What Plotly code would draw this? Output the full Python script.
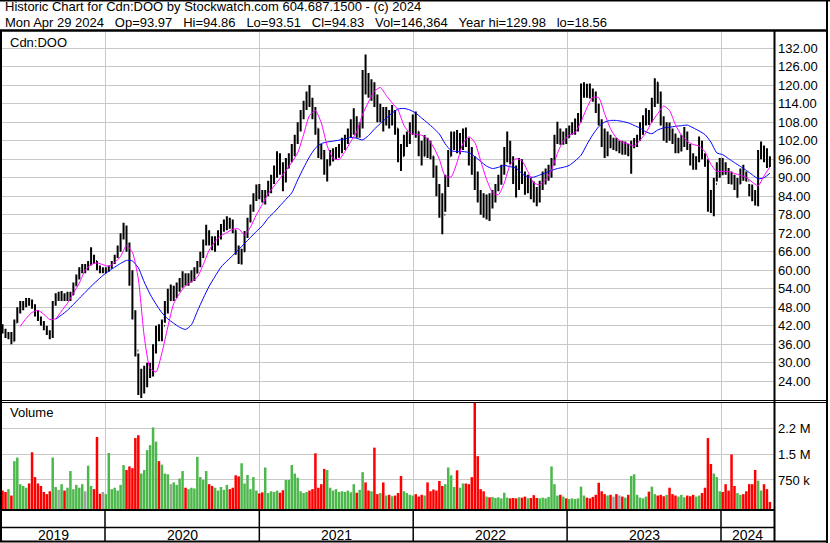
import pandas as pd
import plotly.graph_objects as go

W, H = 830, 543
FONT = "Liberation Sans, Arial, sans-serif"


def px(x):
    return x / W


def py(y):
    return 1 - y / H


# ---------------- data (weekly bars) ----------------
WEEKS = pd.date_range("2019-05-03", periods=261, freq="7D")
MA_DATES = WEEKS[::2]

HIGH = [
    42.5, 41, 40, 40, 44, 48, 50, 50, 51, 51,
    50.5, 49, 47, 45, 43.5, 42, 40.5, 50, 52.5, 53,
    53.3, 52.5, 53, 53, 56, 58.6, 61, 62, 62, 63,
    67.5, 65, 63, 61.5, 61, 61, 61.5, 63, 65, 68,
    72, 75.4, 74.5, 69, 60, 47, 33, 28, 29, 30,
    30, 36, 42, 42.5, 44, 50, 54, 55.4, 55, 56,
    57.5, 59.7, 59, 59, 60, 61, 63, 66, 70, 74.8,
    73, 71, 71, 73, 75, 76.5, 77.5, 77, 76.5, 73,
    68, 67, 72.7, 77, 81.3, 85, 87.8, 88, 86, 86,
    89, 91, 94, 98.6, 98, 95, 96.4, 98, 101, 104,
    108, 112, 115, 118, 120.1, 116, 113, 106, 101, 99,
    96, 99, 99.6, 100, 101, 103, 104, 106, 109, 112.6,
    110, 108, 125, 129.98, 124, 122, 121, 117, 114, 113,
    113, 112, 113.6, 112, 106, 101, 104, 105, 108, 110.5,
    111.5, 105, 102, 103.9, 103, 102, 97, 94, 88, 85,
    91, 99, 105, 105, 105.5, 104.5, 106, 106.3, 103, 100,
    97, 92, 86, 85, 84.6, 85, 86, 88, 91, 94.2,
    100, 105, 102, 97, 94, 96.4, 96, 92, 91, 90,
    88.8, 87, 89, 92, 93, 94.2, 96.4, 104, 108.2, 106,
    105, 106.1, 107, 108, 109.2, 111, 120.6, 121, 120.5, 120.6,
    119, 118, 114, 109, 106, 105, 104, 103, 102.9, 102,
    102, 101.8, 101, 102, 102.9, 104, 108, 110.3, 112.6, 112,
    116, 122.3, 121, 118, 110, 108, 107.9, 106, 104.4, 103,
    104, 106.5, 105, 101, 98, 97, 103.4, 102, 98, 96,
    86, 90, 95, 96.4, 96.4, 95, 93.2, 92, 91, 89.9,
    93, 94.2, 92, 88, 87.8, 86, 99, 101.8, 100.5, 99.6,
    97,
]

LOW = [
    39.5, 38, 37.6, 36, 37, 43, 46, 47, 48, 48.5,
    47.5, 45, 43.5, 42, 40.5, 39, 37.6, 38, 48.5, 50,
    50, 50, 50, 50, 52, 55, 57, 59, 59, 60,
    61.5, 62, 60, 59, 59, 59, 59.5, 60.5, 62, 64,
    66, 70, 66, 55, 44, 32, 19.5, 18.56, 20, 22,
    25, 25.5, 33, 37, 37, 43, 46, 50, 50, 51,
    53, 54.3, 55, 55, 56, 56.5, 59, 61, 64, 68,
    68, 66.5, 66, 68, 70, 72.5, 73, 73.5, 72, 65,
    62, 61.9, 66, 70.5, 75.5, 79, 82.5, 83, 82, 81.3,
    84, 85, 88, 90, 91, 85.6, 88.5, 93, 95, 97,
    101, 105, 109, 112, 113, 109, 104, 96.4, 96, 91,
    88.8, 94, 95.3, 96, 96.5, 98, 99, 101, 103, 104,
    103, 103, 106, 117, 116, 115, 113, 108, 108, 105,
    107, 106, 107, 104, 95, 92.2, 97, 100, 101, 104,
    103, 97, 94, 97, 96.4, 96, 90, 84, 77, 71.7,
    79, 87, 97, 99, 98, 97.6, 99, 100, 94, 91,
    86, 82, 78, 77, 76.5, 76, 80, 82, 85.6, 87.7,
    91, 95, 94.4, 88, 83.6, 86, 88, 84.5, 85, 83,
    82, 80.8, 82, 86, 87.8, 89, 90, 94, 101, 100.7,
    100.7, 101, 103, 104, 104, 105, 108, 116, 116, 115.7,
    114.7, 111, 107, 100, 96.4, 97, 99.6, 99, 98.6, 98,
    97.5, 97.5, 97, 91.3, 99.6, 100, 102, 104, 107, 107.1,
    108, 113, 114, 107, 102, 101.4, 102, 101, 98, 98,
    98.5, 100, 99, 94, 92.6, 92.6, 95, 96, 93.6, 79,
    78.6, 77.5, 88.8, 90, 90.8, 91, 88, 87.8, 86, 83.5,
    88, 89, 88.8, 84, 82.4, 81, 80.8, 96, 95, 93.2,
    93.51,
]

CLOSE = [
    40.5, 38.5, 39, 37, 43, 47, 48, 49.5, 50, 49.5,
    48, 46, 44.5, 42.5, 41, 39.5, 38.5, 49, 51, 51,
    52, 51, 51.5, 52, 55, 58, 60, 61, 61, 62,
    64, 63, 61, 60, 60, 60.5, 61, 62.5, 64.5, 67,
    71, 73.5, 68, 57, 46, 34, 22, 24, 25, 27,
    27.5, 34, 40, 39, 42, 47, 52, 52, 53, 54.5,
    56, 57, 56.5, 57.5, 58, 59, 62, 65, 69, 72,
    69, 68, 70, 72, 73, 75, 76, 75, 73, 67,
    64, 66, 71, 76, 80, 84, 86, 85, 83.5, 85,
    87, 89, 93, 96, 93, 90, 94, 96, 99, 102,
    106, 110, 113, 116, 115, 111, 106, 98, 97, 93,
    94, 97, 98, 98.5, 100, 101, 102.5, 105, 107, 108,
    105, 106.5, 122, 120, 118, 120, 116, 110, 112, 109,
    111, 110, 111, 106, 98, 97, 102, 103, 106, 107,
    105, 99, 97, 101, 99, 97, 92, 86, 80, 78,
    88, 97, 101, 102, 101, 102, 104, 102, 97, 94,
    90, 84, 81, 80, 82, 81, 84, 86, 89, 92,
    98, 99, 96, 91, 88, 93, 91, 86, 88, 86,
    84, 83, 87, 90, 91, 93, 95, 102, 105, 102,
    104, 103, 106, 107, 108, 110, 118, 119, 118, 117,
    116, 112, 108, 102, 100, 103, 101, 101, 100, 100,
    99, 100, 99, 100, 101, 103, 107, 109, 111, 110,
    114, 121, 116, 109, 105, 106, 104, 103, 100, 101,
    102, 104, 100, 96, 95, 96, 100, 97, 95, 82,
    81, 88, 93, 94, 93, 92, 90, 89, 87, 88,
    92, 91, 89, 86, 85, 83, 97, 99, 97, 95,
    94.83,
]
FIRST_OPEN = 41.5

VOLUME_K = [
    520, 480, 560, 380, 1350, 1450, 700, 650, 600, 720,
    1600, 900, 720, 650, 480, 420, 500, 1450, 620, 540,
    700, 520, 600, 1070, 560, 680, 600, 700, 500, 1220,
    650, 560, 2030, 430, 480, 420, 1580, 560, 600, 520,
    680, 1240, 1100, 1200, 1150, 2000, 2080, 1000, 1100, 1660,
    1800, 2300, 1900, 1350, 1250, 1000, 980, 700, 750, 680,
    860, 1070, 600, 560, 600, 580, 1470, 900, 820, 1070,
    700, 650, 600, 520, 620, 540, 680, 560, 600, 950,
    920, 1290, 720, 960, 560, 900, 520, 440, 470, 1170,
    450, 500, 480, 520, 460, 530, 820, 820, 1240, 1000,
    880, 500, 450, 480, 520, 560, 1570, 600, 700, 1130,
    1100, 600, 520, 560, 480, 500, 480, 520, 470, 700,
    460, 540, 1040, 750, 520, 500, 1730, 420, 450, 750,
    380, 400, 360, 380, 450, 930, 500, 450, 400, 380,
    420, 350, 400, 380, 750, 500, 550, 520, 790, 650,
    700, 1170, 950, 620, 1090, 600, 720, 720, 700, 900,
    3000, 1490, 560, 500, 350, 330, 340, 310, 330, 300,
    460, 320, 300, 310, 300, 330, 320, 350, 300, 310,
    390, 310, 300, 320, 300, 340, 1200, 700, 380, 400,
    350, 300, 280, 300, 280, 300, 630, 380, 320, 300,
    340, 400, 740, 500, 420, 380, 400, 350, 420, 380,
    350, 320, 400, 930, 980, 400, 320, 300, 350, 490,
    630, 420, 380, 400, 360, 400, 600, 420, 380, 350,
    400, 330, 380, 360, 400, 350, 380, 450, 600, 2000,
    1270, 1000, 900, 500, 480, 700, 520, 1540, 650, 450,
    400, 420, 500, 700, 700, 1100, 800, 520, 700, 560,
    200,
]

# moving averages, every second week
MA_FAST = [
    None, None, None, 41.8, 44.4, 46.3, 47.0, 45.7, 44.0, 44.3,
    46.8, 49.3, 52.5, 55.8, 60.0, 61.8, 62.4, 61.8, 61.3, 62.5,
    64.5, 68.0, 65.8, 57.2, 38.6, 28.2, 27.0, 33.2, 41.6, 49.2,
    52.5, 55.0, 56.3, 57.8, 61.8, 66.5, 69.3, 71.2, 72.2, 73.3,
    73.4, 71.5, 74.0, 78.0, 81.3, 84.8, 87.3, 89.8, 92.3, 95.0,
    98.1, 104.0, 110.2, 111.8, 107.8, 100.4, 96.3, 95.9, 98.5, 101.8,
    104.9, 110.6, 114.6, 118.1, 119.3, 116.7, 114.3, 112.0, 107.0, 104.5,
    104.1, 103.8, 102.7, 100.0, 96.0, 90.5, 90.3, 95.0, 101.1, 103.3,
    101.5, 95.5, 89.5, 85.3, 84.5, 88.3, 94.2, 96.2, 95.5, 92.0,
    88.3, 87.8, 89.3, 92.5, 97.9, 102.0, 103.8, 104.7, 108.2, 112.7,
    116.1, 116.0, 110.8, 105.9, 102.9, 101.6, 101.0, 100.3, 102.2, 104.6,
    108.1, 110.8, 113.3, 111.8, 107.2, 103.8, 101.8, 100.8, 100.3, 98.4,
    94.4, 92.1, 92.1, 92.0, 91.4, 90.8, 90.1, 88.6, 87.4, 90.6,
    93.5,
]

MA_SLOW = [
    None, None, None, None, None, None, None, None, None, 44.1,
    45.5, 47.0, 48.9, 50.9, 52.8, 54.8, 56.6, 58.3, 59.7, 61.0,
    62.2, 63.2, 63.0, 60.8, 56.2, 52.2, 49.0, 46.2, 44.2, 42.8,
    41.5, 40.8, 42.3, 46.7, 50.9, 54.8, 58.0, 61.0, 63.0, 64.8,
    66.7, 68.7, 70.6, 72.6, 74.4, 76.9, 78.8, 80.9, 83.0, 85.1,
    89.3, 93.2, 96.8, 99.6, 101.1, 101.6, 101.9, 102.2, 102.6, 103.1,
    102.8, 102.3, 103.7, 105.8, 107.6, 109.3, 111.0, 112.3, 112.5, 112.0,
    111.0, 109.4, 107.8, 106.1, 104.2, 101.0, 98.8, 98.5, 98.5, 98.2,
    96.9, 95.3, 93.8, 93.0, 93.4, 94.0, 93.6, 93.2, 91.3, 90.3,
    90.2, 90.9, 91.6, 92.4, 93.0, 93.4, 94.0, 95.5, 97.3, 100.8,
    104.0, 106.6, 108.1, 108.6, 108.6, 108.3, 107.8, 107.0, 106.1, 104.9,
    104.3, 105.5, 106.2, 106.4, 106.7, 106.9, 107.1, 106.2, 105.2, 104.0,
    101.6, 98.1, 97.5, 96.2, 94.9, 93.7, 92.4, 91.0, 89.7, 90.0,
    91.5,
]

PRICE_TICKS = list(range(24, 133, 6))
VOL_TICK_VALUES = [818e3, 1551e3, 2284e3]
VOL_TICK_TEXT = ["750 k", "1.5 M", "2.2 M"]
YEARS = [2019, 2020, 2021, 2022, 2023, 2024]

HEADER1 = "Historic Chart for Cdn:DOO by Stockwatch.com 604.687.1500 - (c) 2024"
HEADER2_FIELDS = ["Mon Apr 29 2024", "Op=93.97", "Hi=94.86", "Lo=93.51",
                  "Cl=94.83", "Vol=146,364", "Year hi=129.98", "lo=18.56"]

# ---------------- derived ----------------
OPEN = [FIRST_OPEN] + CLOSE[:-1]
vol_colors = []
for o, c in zip(OPEN, CLOSE):
    if c > o:
        vol_colors.append("#4cb84c")
    elif c < o:
        vol_colors.append("#ff0000")
    else:
        vol_colors.append("#a0a0a0")

X_START = pd.Timestamp("2019-05-01 17:00")
X_END = pd.Timestamp("2024-05-05 17:00")
YEAR_STARTS = [pd.Timestamp(f"{y}-01-01") for y in YEARS[1:]]

GRID = "#c8c8c8"

fig = go.Figure()
fig.add_trace(go.Ohlc(
    x=WEEKS, open=OPEN, high=HIGH, low=LOW, close=CLOSE,
    increasing=dict(line=dict(color="black", width=2)),
    decreasing=dict(line=dict(color="black", width=2)),
    tickwidth=0.25, xaxis="x", yaxis="y", hoverinfo="skip",
))
fig.add_trace(go.Scatter(
    x=MA_DATES, y=MA_SLOW, mode="lines",
    line=dict(color="#0000ff", width=1, shape="spline", smoothing=0.6),
    xaxis="x", yaxis="y", hoverinfo="skip",
))
fig.add_trace(go.Scatter(
    x=MA_DATES, y=MA_FAST, mode="lines",
    line=dict(color="#ff00ff", width=1, shape="spline", smoothing=0.6),
    xaxis="x", yaxis="y", hoverinfo="skip",
))
fig.add_trace(go.Bar(
    x=WEEKS, y=[v * 1000 for v in VOLUME_K],
    marker=dict(color=vol_colors, line=dict(width=0)),
    xaxis="x2", yaxis="y2", hoverinfo="skip",
))

xaxis_common = dict(
    domain=[px(2), px(774)], type="date", range=[X_START, X_END],
    showgrid=True, gridcolor=GRID, gridwidth=1,
    tickvals=YEAR_STARTS, showticklabels=False, ticks="",
    zeroline=False, showline=False,
)
tickfont = dict(family=FONT, size=13, color="#000000")
SEP = "\u00a0\u00a0\u00a0"

annotations = [
    dict(text=HEADER1, x=px(3), y=py(7), xref="paper", yref="paper",
         xanchor="left", yanchor="middle", showarrow=False,
         font=dict(family=FONT, size=13, color="#000000")),
    dict(text=SEP.join(HEADER2_FIELDS), x=px(3), y=py(22.5),
         xref="paper", yref="paper", xanchor="left", yanchor="middle",
         showarrow=False, font=dict(family=FONT, size=13, color="#000000")),
    dict(text="Cdn:DOO", x=px(8), y=py(42), xref="paper", yref="paper",
         xanchor="left", yanchor="middle", showarrow=False,
         font=dict(family=FONT, size=13, color="#000000")),
    dict(text="Volume", x=px(8), y=py(413), xref="paper", yref="paper",
         xanchor="left", yanchor="middle", showarrow=False,
         font=dict(family=FONT, size=13, color="#000000")),
]
for yr in YEARS:
    a = max(pd.Timestamp(f"{yr}-01-01"), X_START)
    b = min(pd.Timestamp(f"{yr + 1}-01-01"), X_END)
    annotations.append(dict(
        text=str(yr), x=a + (b - a) / 2, y=py(535), xref="x", yref="paper",
        xanchor="center", yanchor="middle", showarrow=False,
        font=dict(family=FONT, size=14, color="#000000")))


def hline(y, x0, x1, w):
    return dict(type="line", xref="paper", yref="paper", x0=px(x0), x1=px(x1),
                y0=py(y), y1=py(y), line=dict(color="black", width=w))


def vline(x, y0, y1, w):
    return dict(type="line", xref="paper", yref="paper", x0=px(x), x1=px(x),
                y0=py(y0), y1=py(y1), line=dict(color="black", width=w))


shapes = [
    hline(0.8, 0, 830, 1.5),
    hline(30.5, 0, 828, 2.5),
    vline(1, 30, 542, 2),
    vline(827, 0, 543, 2),
    vline(774.5, 30, 542, 2),
    hline(400.5, 0, 828, 1),
    hline(402.5, 0, 828, 1),
    hline(510, 0, 775, 2),
    hline(527.5, 0, 775, 1.5),
    hline(541.5, 0, 828, 2),
]
for ys in YEAR_STARTS:
    shapes.append(dict(type="line", xref="x", yref="paper", x0=ys, x1=ys,
                       y0=py(541), y1=py(510), line=dict(color="black", width=1.5)))

fig.update_layout(
    width=W, height=H, margin=dict(l=0, r=0, t=0, b=0),
    paper_bgcolor="white", plot_bgcolor="white", showlegend=False,
    bargap=0.15,
    xaxis=dict(**xaxis_common, anchor="y", rangeslider=dict(visible=False)),
    xaxis2=dict(**xaxis_common, anchor="y2", matches="x"),
    yaxis=dict(domain=[py(400), py(32)], range=[17.9, 137.3], side="right",
               anchor="x", tickvals=PRICE_TICKS,
               ticktext=[f"{v:.2f}" for v in PRICE_TICKS],
               showgrid=True, gridcolor=GRID, gridwidth=1, zeroline=False,
               ticks="", tickfont=tickfont, ticklabelstandoff=3),
    yaxis2=dict(domain=[py(509), py(403)], range=[0, 2989e3], side="right",
                anchor="x2", tickvals=VOL_TICK_VALUES, ticktext=VOL_TICK_TEXT,
                showgrid=True, gridcolor=GRID, gridwidth=1, zeroline=False,
                ticks="", tickfont=tickfont, ticklabelstandoff=3),
    annotations=annotations,
    shapes=shapes,
)

fig.write_html(
    "out.html",
    config={"displayModeBar": False},
    post_script="document.body.style.margin='0';document.body.style.overflow='hidden';",
)
